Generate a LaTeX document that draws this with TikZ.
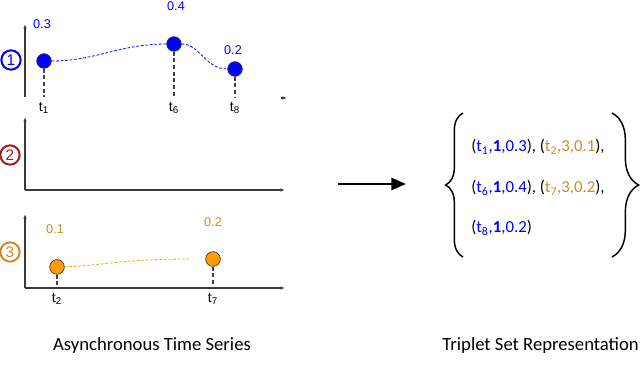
\documentclass[tikz,border=0pt]{standalone}
\usepackage{fontspec}
\setmainfont{Carlito}
\newfontfamily\arialfont{Liberation Sans}
\usetikzlibrary{arrows.meta,decorations.pathreplacing}
\definecolor{SeriesBlue}{HTML}{0000FF}
\definecolor{SeriesRed}{HTML}{A51C1C}
\definecolor{SeriesOrange}{HTML}{FF9C00}
\definecolor{OrangeText}{HTML}{D08A2A}
\definecolor{StemGray}{HTML}{404040}
\definecolor{AxisInk}{HTML}{3A3A3A}

\begin{document}
\begin{tikzpicture}[x=0.75pt,y=-0.75pt,
  every node/.style={font=\arialfont\fontsize{9.5}{11}\selectfont},
  obs/.style={circle,draw=black!80,line width=0.5pt,inner sep=0pt,minimum size=11pt},
  badge/.style={circle,line width=1.5pt,inner sep=0pt,minimum size=14.5pt,font=\arialfont\fontsize{11.5}{11.5}\selectfont},
  stem/.style={dashed,StemGray,line width=0.8pt,dash pattern=on 3pt off 2pt},
  trend/.style={line width=0.6pt,dash pattern=on 2pt off 1.4pt},
  axis/.style={AxisInk,line width=0.8pt,-{Latex[length=3.5pt,width=2.6pt]}},
  tick/.style={below,inner sep=4pt,font=\arialfont\fontsize{10.5}{12}\selectfont},
  caption/.style={font=\fontsize{14}{16}\selectfont}]
\useasboundingbox (0,0) rectangle (640,387);

% series 1
\coordinate (y1-low) at (25,97);
\coordinate (y1-top) at (25,24);
\draw[axis] (y1-low) -- (y1-top);
\coordinate (x1-a) at (281,98);
\coordinate (x1-b) at (287,98);
\draw[axis] (x1-a) -- (x1-b);
\node[badge,draw=SeriesBlue,text=SeriesBlue] (ch1) at (11,60) {1};
\node[obs,fill=SeriesBlue] (b1) at (44,61) {};
\node[obs,fill=SeriesBlue] (b6) at (174,44) {};
\node[obs,fill=SeriesBlue] (b8) at (235,69) {};
\draw[trend,SeriesBlue] (b1) .. controls (95,61) and (120,44) .. (b6);
\draw[trend,SeriesBlue] (b6) .. controls (200,44) and (205,69) .. (b8);
\foreach \p in {b1,b6,b8} {
  \coordinate (\p-foot) at (\p |- y1-low);
  \draw[stem] (\p) -- (\p-foot);
}
\node[tick] (t1) at (b1-foot) {t\textsubscript{1}};
\node[tick] (t6) at (b6-foot) {t\textsubscript{6}};
\node[tick] (t8) at (b8-foot) {t\textsubscript{8}};
\node[text=SeriesBlue] (v1) at (42,24) {0.3};
\node[text=SeriesBlue] (v6) at (176,6) {0.4};
\node[text=SeriesBlue] (v8) at (233,50) {0.2};

% series 2
\coordinate (o2) at (25,190);
\coordinate (y2-top) at (25,117);
\coordinate (x2-end) at (285,190);
\draw[axis] (o2) -- (y2-top);
\draw[axis] (o2) -- (x2-end);
\node[badge,draw=SeriesRed,text=SeriesRed] (ch2) at (10,155) {2};

% series 3
\coordinate (o3) at (25,288);
\coordinate (y3-top) at (25,214);
\coordinate (x3-end) at (285,288);
\draw[axis] (o3) -- (y3-top);
\draw[axis] (o3) -- (x3-end);
\node[badge,draw=OrangeText,text=OrangeText] (ch3) at (10,252) {3};
\node[obs,fill=SeriesOrange] (r2) at (57,267) {};
\node[obs,fill=SeriesOrange] (r7) at (213,259) {};
\coordinate (r-gap) at (190,259);
\draw[trend,SeriesOrange] (r2) .. controls (100,266) and (120,259) .. (r-gap);
\foreach \p in {r2,r7} {
  \coordinate (\p-foot) at (\p |- o3);
  \draw[stem] (\p) -- (\p-foot);
}
\node[tick] (t2) at (r2-foot) {t\textsubscript{2}};
\node[tick] (t7) at (r7-foot) {t\textsubscript{7}};
\node[text=OrangeText] (v2) at (55,229) {0.1};
\node[text=OrangeText] (v7) at (213,222) {0.2};

\node[caption] (lhs) at (152,346) {Asynchronous Time Series};

% mapping arrow
\coordinate (map-a) at (338,184);
\coordinate (map-b) at (406,184);
\draw[line width=2pt,-{Triangle[length=11pt,width=9pt]}] (map-a) -- (map-b);

% triplet set
\draw[line width=1.1pt,decorate,decoration={brace,amplitude=13pt,aspect=0.5}] (463,257) -- (463,113);
\draw[line width=1.1pt,decorate,decoration={brace,amplitude=20pt,aspect=0.5}] (612,113) -- (612,257);
\begin{scope}[every node/.style={anchor=west,inner sep=0pt,font=\fontsize{12.6}{14}\selectfont}]
\node (row1) at (471,147) {(\textcolor{SeriesBlue}{t\textsubscript{1},\textbf{1},0.3}), (\textcolor{OrangeText}{t\textsubscript{2},3,0.1}),};
\node (row2) at (471,188) {(\textcolor{SeriesBlue}{t\textsubscript{6},\textbf{1},0.4}), (\textcolor{OrangeText}{t\textsubscript{7},3,0.2}),};
\node (row3) at (471,228) {(\textcolor{SeriesBlue}{t\textsubscript{8},\textbf{1},0.2})};
\end{scope}
\node[caption,anchor=east,inner sep=0pt] (rhs) at (639,346) {Triplet Set Representation};
\end{tikzpicture}
\end{document}
